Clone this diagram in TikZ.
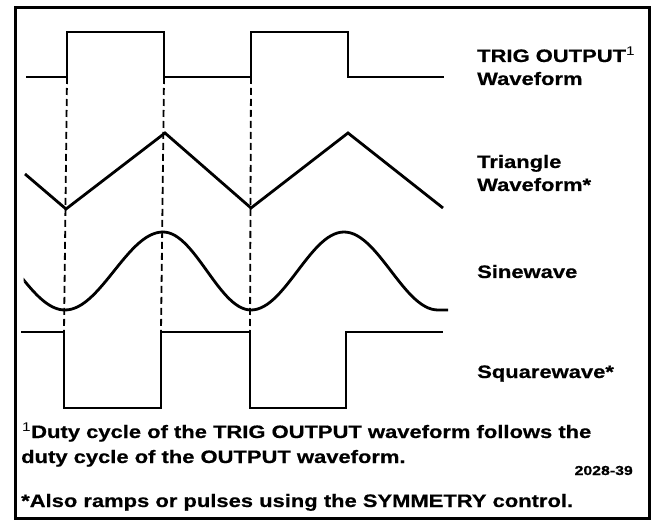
\documentclass[tikz,border=0pt]{standalone}
\usepackage{fontspec}
\setmainfont{Liberation Sans}[FakeStretch=1.22, BoldFeatures={FakeBold=0.6}]
\usetikzlibrary{calc}

\begin{document}
\begin{tikzpicture}[
  x=1pt, y=-1pt,
  every node/.style={inner sep=0pt, anchor=base west, font=\fontsize{18}{23}\selectfont\bfseries},
  wave/.style={line width=2.8pt, line join=miter},
  guide/.style={line width=1.8pt, dash pattern=on 7pt off 4pt},
  frame/.style={line width=3pt},
  figno/.style={font=\fontsize{13}{15}\selectfont\bfseries, anchor=base east}
]
\useasboundingbox (0,0) rectangle (661,521);
\draw[frame] (15,8) rectangle (649,518);

% edges shared by TRIG OUTPUT and squarewave
\coordinate (t1) at (67,77);  \coordinate (s1) at (64,332);
\coordinate (t2) at (164,77); \coordinate (s2) at (161,332);
\coordinate (t3) at (251,77); \coordinate (s3) at (250,332);

\draw[guide] (t1) -- (s1);
\draw[guide] (t2) -- (s2);
\draw[guide] (t3) -- (s3);

\draw[wave] (26,77) -- (t1) -- (67,32) -- (164,32) -- (t2) -- (t3) -- (251,32) -- (348,32) -- (348,77) -- (444,77);
\draw[wave] (25,174) -- (66,209) -- (165,133) -- (251,208) -- (348,133) -- (443,208);
\draw[wave] (25,281.6) \foreach \a/\ya/\b/\yb/\c in {-32/232/65/310/25, 65/310/163/232/65, 163/232/251/310/163, 251/310/344/232/251, 344/232/438/310/344}
  { -- plot[domain=\c:\b, samples=30] (\x, {(\ya+\yb)/2+(\ya-\yb)/2*cos(180/(\b-\a)*(\x-\a))}) } -- (448,310);
\draw[wave] (21,332) -- (s1) -- (64,408) -- (161,408) -- (s2) -- (s3) -- (250,408) -- (346,408) -- (346,332) -- (443,332);

\node (trig)   at (477,62)  {TRIG OUTPUT\textsuperscript{\mdseries 1}};
\node (trigb)  at (477,85)  {Waveform};
\node (tri)    at (477,168) {Triangle};
\node (trib)   at (477,191) {Waveform*};
\node (sine)   at (477,278) {Sinewave};
\node (square) at (477,378) {Squarewave*};

\node (fn1) at (22,438) {\textsuperscript{\mdseries 1}Duty cycle of the TRIG OUTPUT waveform follows the};
\node (fn2) at (21,463) {duty cycle of the OUTPUT waveform.};
\node[figno] (fig) at (633,475) {2028-39};
\node (fn3) at (21,507) {*Also ramps or pulses using the SYMMETRY control.};
\end{tikzpicture}
\end{document}
